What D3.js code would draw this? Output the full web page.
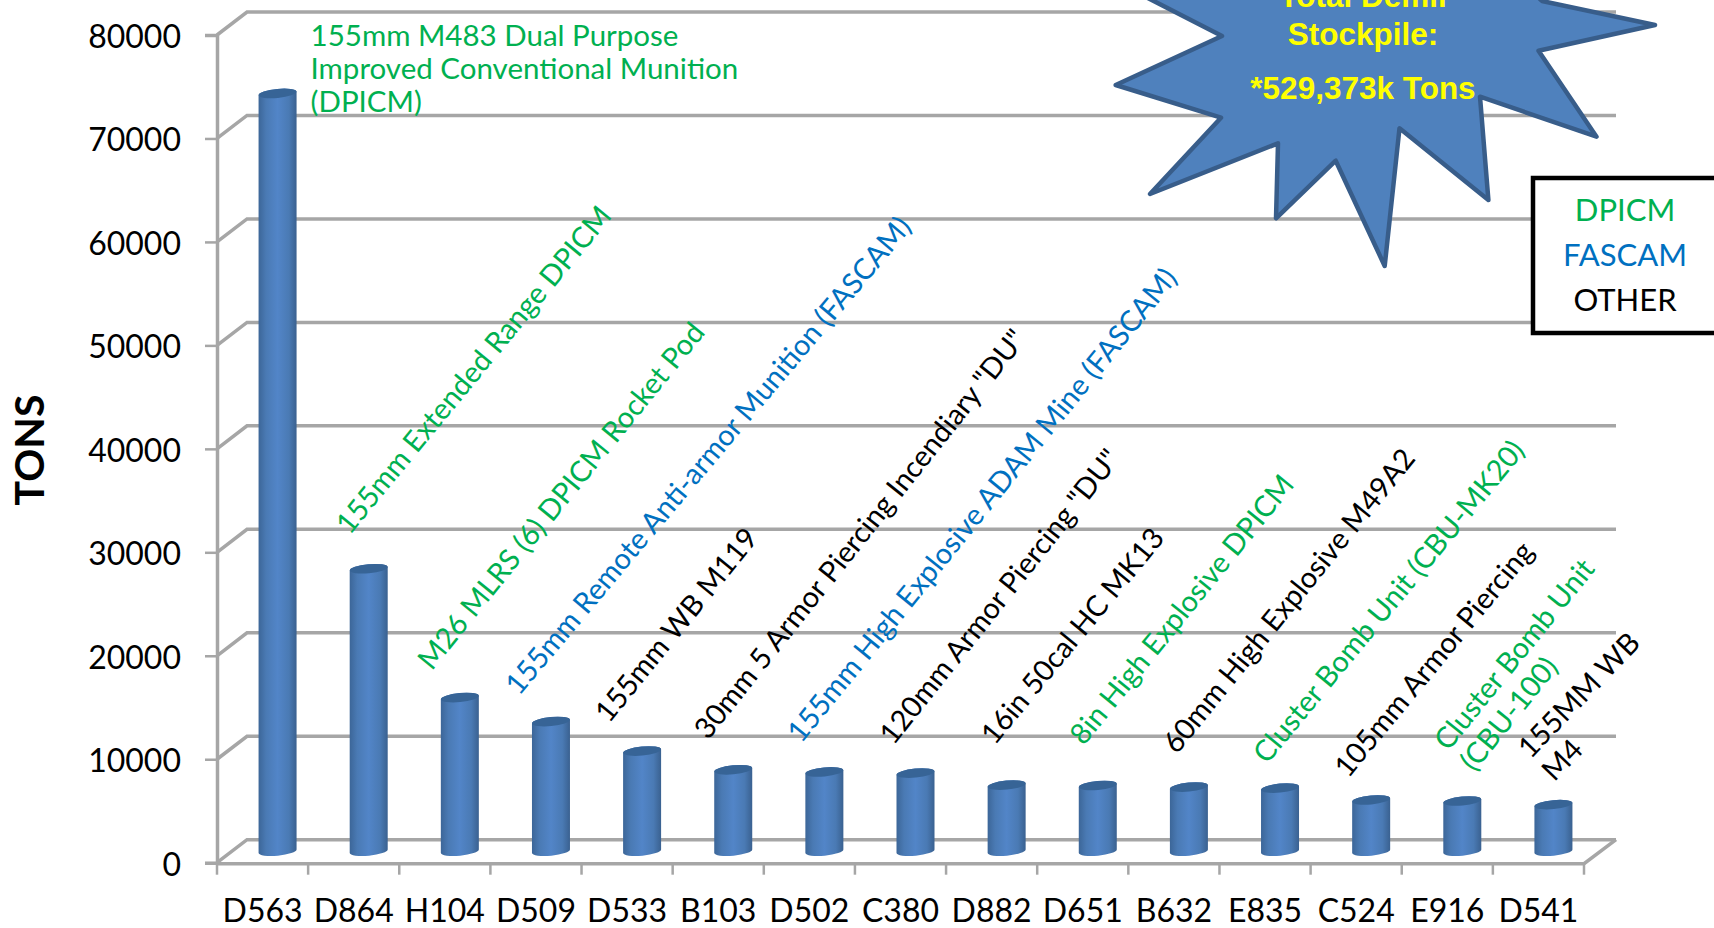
<!DOCTYPE html>
<html>
<head>
<meta charset="utf-8">
<script src="https://cdn.jsdelivr.net/npm/d3@7"></script>
<style>
  body { margin: 0; background: #fff; overflow: hidden; }
  text { font-family: Lato, "Noto Sans", sans-serif; }
</style>
</head>
<body>
<div id="chart"></div>
<script>
// ---------------- DATA ----------------
const categories = ["D563", "D864", "H104", "D509", "D533", "B103", "D502", "C380", "D882", "D651", "B632", "E835", "C524", "E916", "D541"];
const tons = [73240, 27300, 14850, 12530, 9680, 7870, 7660, 7550, 6390, 6350, 6200, 6100, 4950, 4850, 4500];
const yTicks = [0, 10000, 20000, 30000, 40000, 50000, 60000, 70000, 80000];
const labels = [
  ["155mm M483 Dual Purpose", "Improved Conventional Munition", "(DPICM)"],
  ["155mm Extended Range DPICM"],
  ["M26 MLRS (6) DPICM Rocket Pod"],
  ["155mm Remote Anti-armor Munition (FASCAM)"],
  ["155mm WB M119"],
  ["30mm 5 Armor Piercing Incendiary \"DU\""],
  ["155mm High Explosive ADAM Mine (FASCAM)"],
  ["120mm Armor Piercing \"DU\""],
  ["16in 50cal HC MK13"],
  ["8in High Explosive DPICM"],
  ["60mm High Explosive M49A2"],
  ["Cluster Bomb Unit (CBU-MK20)"],
  ["105mm Armor Piercing"],
  ["Cluster Bomb Unit", "(CBU-100)"],
  ["155MM WB", "M4"]
];
const kinds = ["DPICM", "DPICM", "DPICM", "FASCAM", "OTHER", "OTHER", "FASCAM", "OTHER", "OTHER", "DPICM", "OTHER", "DPICM", "OTHER", "DPICM", "OTHER"];
const legendKinds = ["DPICM", "FASCAM", "OTHER"];
const burstLines = ["Total Demil", "Stockpile:", "*529,373k Tons"];

// ---------------- LAYOUT ----------------
const width = 1714, height = 928;
const left = 217, right = 1584, y0 = 862.7, yTop = 35;
const depthX = 30, depthY = 23;
const barW = 38, capRy = 4.5, capTilt = -5.5;
const gridColor = "#a6a6a6";
const kindColor = d3.scaleOrdinal().domain(legendKinds).range(["#00b050", "#0070c0", "#000"]);

// label start point relative to the top of its bar
const labelDx = [33, -19, -28, -32, -33, -25, -23, -22, -12, -14, -12, -13, -23, -14, -23];
const labelDy = [-47.6, -33, -26, -25, -27, -29, -28, -27, -39, -39, -32, -23, -21, -49, -45];
const labelAngle = [0, -50.5, -51, -50, -51, -51.5, -51, -51.5, -50.5, -51, -51, -50.5, -50.5, -51, -46];

const svg = d3.select("#chart").append("svg")
  .attr("width", width)
  .attr("height", height);

const x = d3.scaleBand().domain(categories).range([left, right]);
const y = d3.scaleLinear().domain([0, 80000]).range([y0, yTop]);

// Cylinder side shading
const grad = svg.append("defs").append("linearGradient").attr("id", "side");
[[0, "#3c6698"], [0.2, "#4a7ab4"], [0.5, "#5285c8"], [0.8, "#4a7ab4"], [1, "#3a6190"]]
  .forEach(s => grad.append("stop").attr("offset", s[0]).attr("stop-color", s[1]));

// Walls: back gridlines and the slanted bits joining them to the axis
const grid = svg.append("g").attr("fill", "none").attr("stroke", gridColor).attr("stroke-width", 3.5);
grid.selectAll("path").data(yTicks).join("path")
  .attr("d", d => d3.line()([[left, y(d)], [left + depthX, y(d) - depthY], [right + 32, y(d) - depthY]]));
grid.append("path")
  .attr("d", d3.line()([[left, y0 + 1], [right, y0 + 1], [right + 32, y0 - depthY]]));

// Axes
const yAxis = svg.append("g")
  .attr("transform", `translate(${left},0)`)
  .call(d3.axisLeft(y).tickValues(yTicks).tickFormat(d3.format("d")).tickSize(12).tickPadding(24));
const xAxis = svg.append("g")
  .attr("transform", `translate(0,${y0 + 1})`)
  .call(d3.axisBottom(x).tickSize(0).tickPadding(36));
// ticks sit between the categories
xAxis.selectAll(".edge").data(d3.range(categories.length + 1)).join("line")
  .attr("class", "edge")
  .attr("x1", i => left + i * x.step()).attr("x2", i => left + i * x.step())
  .attr("y1", 0).attr("y2", 11)
  .attr("stroke", gridColor).attr("stroke-width", 2.5);
[yAxis, xAxis].forEach(a => {
  a.selectAll(".domain").attr("stroke", gridColor).attr("stroke-width", 3.5);
  a.selectAll(".tick line").attr("stroke", gridColor).attr("stroke-width", 2.5);
  a.selectAll("text").attr("font-family", "Lato").attr("font-size", 32).attr("fill", "#000");
});
yAxis.selectAll("text").attr("dy", "0.39em");
xAxis.select(".domain").remove();

// Cylinders
const cx = (d) => x(d) + x.bandwidth() / 2 + depthX / 2;
const base = y0 - depthY / 2;
const topY = (v) => y(v) - depthY / 2;
const bars = svg.append("g").selectAll("g").data(categories).join("g");
const rx = barW / 2;
const tiltY = rx * Math.sin(-capTilt * Math.PI / 180);
bars.append("path")
  .attr("fill", "url(#side)")
  .attr("d", (d, i) => {
    const c = cx(d), t = topY(tons[i]);
    return `M${c - rx},${t + tiltY} L${c - rx},${base + tiltY}`
      + ` A${rx},${capRy} ${capTilt} 0 0 ${c + rx},${base - tiltY}`
      + ` L${c + rx},${t - tiltY}`
      + ` A${rx},${capRy} ${capTilt} 0 0 ${c - rx},${t + tiltY} Z`;
  });
bars.append("ellipse")
  .attr("fill", "#376496")
  .attr("rx", rx).attr("ry", capRy)
  .attr("transform", (d, i) => `translate(${cx(d)},${topY(tons[i])}) rotate(${capTilt})`);

// Munition names
const names = svg.append("g").selectAll("text").data(categories).join("text")
  .attr("font-size", (d, i) => i ? 29 : 29.5)
  .attr("fill", (d, i) => kindColor(kinds[i]))
  .attr("transform", (d, i) => `translate(${cx(d) + labelDx[i]},${topY(tons[i]) + labelDy[i]}) rotate(${labelAngle[i]})`);
names.selectAll("tspan").data((d, i) => labels[i]).join("tspan")
  .attr("x", 0)
  .attr("dy", (d, j) => j ? 33 : 0)
  .text(d => d);

// Y title
svg.append("text")
  .attr("transform", "translate(44,450) rotate(-90)")
  .attr("text-anchor", "middle")
  .attr("font-size", 41)
  .attr("font-weight", 700)
  .text("TONS");

// Starburst callout
const burst = [[1655, 25], [1538.5, 50.7], [1596.5, 136.7], [1480, 96.7], [1488.4, 200], [1399.5, 128.3], [1384.7, 266],
  [1335.7, 160.7], [1276, 218.3], [1278, 143.3], [1150, 194], [1221, 117.7], [1115.7, 85], [1222, 36], [1140, -6],
  [1250, -40], [1500, -40], [1542, 1]];
svg.append("path")
  .attr("d", d3.line()(burst) + "Z")
  .attr("fill", "#4f81bd")
  .attr("stroke", "#385d8a")
  .attr("stroke-width", 4.5)
  .attr("stroke-linejoin", "round");
svg.append("g").selectAll("text").data(burstLines).join("text")
  .attr("x", 1363)
  .attr("y", (d, i) => [7, 45, 99][i])
  .attr("text-anchor", "middle")
  .attr("font-size", 31.5)
  .attr("font-weight", 700)
  .attr("fill", "#ff0")
  .style("font-family", "'Liberation Sans'")
  .text(d => d);

// Legend box
svg.append("rect")
  .attr("x", 1533).attr("y", 178).attr("width", 220).attr("height", 155)
  .attr("fill", "#fff").attr("stroke", "#000").attr("stroke-width", 4.5);
svg.append("g").selectAll("text").data(legendKinds).join("text")
  .attr("x", 1625)
  .attr("y", (d, i) => 221 + i * 44.8)
  .attr("text-anchor", "middle")
  .attr("font-size", 31)
  .attr("fill", d => kindColor(d))
  .text(d => d);
</script>
</body>
</html>
